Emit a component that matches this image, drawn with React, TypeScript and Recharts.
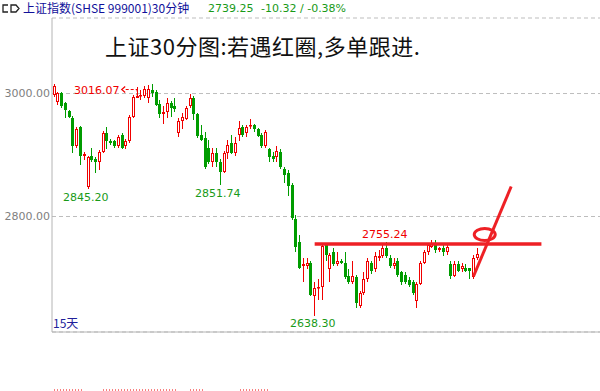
import React from "react";
import {
  Bar,
  CartesianGrid,
  ComposedChart,
  ReferenceDot,
  ReferenceLine,
  XAxis,
  YAxis
} from "recharts";

// 30-minute bars (index = bar slot)
const opens = [
  2998, 2987, 3001, 2985, 2971, 2961, 2914, 2945, 2899, 2848,
  2897.6, 2894, 2889.4, 2905.7, 2936.6, 2923.6, 2922, 2914, 2933, 2914,
  2922, 2962.6, 2993.5, 2996.7, 2996.7, 2993.5, 3006.5, 3003, 2983.7, 2967.5,
  2970.7, 2985, 2979, 2936.6, 2956, 2959, 2979, 2993.5, 2966, 2933,
  2927, 2912, 2888, 2904, 2889.4, 2873, 2904, 2920, 2904, 2933,
  2946, 2935, 2947, 2948, 2941.5, 2933, 2914, 2909, 2897.6, 2896,
  2905.7, 2878, 2871.5, 2852, 2796.7, 2759, 2719, 2720, 2725, 2670,
  2683, 2686, 2754.5, 2714, 2741.5, 2722, 2728, 2725, 2704, 2692.7,
  2702.4, 2654, 2676.4, 2697.6, 2725, 2714, 2732, 2735, 2749.6, 2733,
  2719, 2727, 2709, 2705.7, 2697, 2692.7, 2662, 2691, 2725, 2741.5,
  2751, 2756, 2745, 2749.6, 2741.5, 2722, 2704, 2723.5, 2714, 2717,
  2715.5, 2701, 2732
];
const highs = [
  3015, 3003, 3003, 2987, 2973, 2963, 2945, 2947, 2905, 2899,
  2912, 2896, 2908, 2939, 2946, 2926, 2925, 2933, 2936, 2926,
  2965, 2998, 3009.8, 3006.5, 3013, 3014, 3016.07, 3006, 2990, 2979,
  2993.5, 2988, 2993.5, 2961, 2969, 2979, 3000, 2996, 2968, 2949.6,
  2938, 2925, 2912, 2912, 2893, 2907, 2925, 2933, 2930, 2954.5,
  2949, 2949.6, 2958, 2951, 2944, 2936, 2941, 2912, 2905.7, 2914,
  2909, 2880, 2876, 2855, 2803, 2770.7, 2733, 2733, 2728, 2694,
  2699, 2755.24, 2757.7, 2741, 2748, 2741.5, 2731, 2741.5, 2714, 2727,
  2705.7, 2679, 2709, 2733, 2728, 2741.5, 2746.3, 2753, 2759, 2736.6,
  2733, 2733, 2712, 2709, 2701, 2696, 2694, 2728, 2744.8, 2756,
  2762.6, 2761, 2751, 2753, 2754.5, 2727, 2727, 2728, 2725, 2722,
  2717, 2736.6, 2749.6
];
const lows = [
  2994, 2982, 2977, 2961, 2960, 2904, 2911, 2884.5, 2892.7, 2845.2,
  2888, 2871.5, 2876, 2903, 2909, 2917, 2912, 2911, 2910, 2909,
  2919, 2960, 2992, 2990, 2993.5, 2985, 2995, 2979, 2961, 2951,
  2961, 2962.6, 2970.7, 2930, 2941.5, 2957, 2977, 2957.7, 2928, 2923,
  2878, 2885, 2880, 2880, 2851.74, 2870, 2893, 2901, 2897.6, 2922,
  2930, 2930, 2941.5, 2938, 2929, 2911, 2911, 2888, 2889.4, 2889.4,
  2877, 2855, 2834, 2795, 2743, 2714, 2694, 2714, 2670, 2638.3,
  2665, 2665, 2727, 2694, 2719, 2719, 2722, 2699, 2690, 2690,
  2652, 2652, 2673, 2694, 2707, 2710, 2728, 2732, 2732, 2715.5,
  2714, 2702.4, 2689, 2691, 2686, 2673, 2652, 2688, 2722, 2738,
  2748, 2740, 2741.5, 2735, 2738, 2699, 2701, 2709, 2709, 2709,
  2699, 2699, 2730
];
const closes = [
  3013, 3001.6, 2979, 2974, 2962.6, 2914, 2943, 2897.6, 2902.4, 2896,
  2892.7, 2889.4, 2905.7, 2936.6, 2922, 2920, 2914, 2928.5, 2912, 2923.6,
  2962.6, 2995, 2996.7, 2998.4, 3008, 3008, 3001.6, 2982, 2966, 2970.7,
  2985, 2977, 2975.6, 2956, 2962.6, 2977, 2993.5, 2966, 2931.7, 2925,
  2881, 2888, 2904, 2888, 2873, 2904, 2917, 2904, 2920, 2944.7,
  2933, 2946, 2949, 2941.5, 2931.7, 2914, 2938, 2896, 2894, 2907,
  2879.7, 2868, 2848.8, 2798, 2751, 2717, 2722, 2725, 2673, 2683,
  2686, 2752, 2738, 2738, 2722, 2728, 2725, 2701, 2692.7, 2704,
  2660, 2676.4, 2699, 2727, 2710.6, 2735, 2735, 2749.6, 2735, 2719,
  2725, 2705.7, 2692.7, 2694, 2689.4, 2676.4, 2691, 2725, 2741.5, 2753,
  2756, 2745, 2748, 2741.5, 2751, 2704, 2722, 2712, 2720, 2712,
  2710.6, 2733, 2739.25
];
const slotCount = 145;
const priceTicks = [2800, 3000];
const resistance = 2755.24;

const UP = "#f00000";
const DOWN = "#009c00";
const MARK = "#ee2025";
const NUM_FONT = "'DejaVu Sans', sans-serif";
const CJK_FONT = "'Noto Sans CJK SC', sans-serif";

const rows = Array.from({ length: slotCount }, (_, i) =>
  i < opens.length
    ? { i, o: opens[i], h: highs[i], l: lows[i], c: closes[i], range: [lows[i], highs[i]] }
    : { i }
);

function Candle(props: any) {
  const { x, y, width, height, payload } = props;
  if (!payload || payload.o == null || !isFinite(y) || !isFinite(height)) return null;
  const { o, h, l, c } = payload;
  const top = Math.min(y, y + height);
  const span = Math.abs(height);
  const k = h === l ? 0 : span / (h - l);
  const yO = top + (h - o) * k;
  const yC = top + (h - c) * k;
  const n = Math.floor(x + width / 2);
  const bTop = Math.round(Math.min(yO, yC));
  const bBot = Math.max(Math.round(Math.max(yO, yC)), bTop + 1);
  const yHigh = Math.round(top);
  const yLow = Math.round(top + span);
  if (c >= o) {
    return (
      <g>
        <line x1={n + 0.5} x2={n + 0.5} y1={yHigh} y2={bTop} stroke={UP} />
        <line x1={n + 0.5} x2={n + 0.5} y1={bBot} y2={yLow} stroke={UP} />
        <rect x={n - 0.5} y={bTop + 0.5} width={2} height={Math.max(bBot - bTop - 1, 0.5)} fill="#fff" stroke={UP} />
      </g>
    );
  }
  return (
    <g>
      <line x1={n + 0.5} x2={n + 0.5} y1={yHigh} y2={yLow} stroke={DOWN} />
      <rect x={n - 1} y={bTop} width={3} height={bBot - bTop} fill={DOWN} />
    </g>
  );
}

function Txt({ x, y, size, color, font, spacing, children }: any) {
  return (
    <div
      style={{
        position: "absolute",
        left: x,
        top: y,
        fontSize: size,
        lineHeight: `${size}px`,
        letterSpacing: spacing,
        color,
        fontFamily: font,
        whiteSpace: "nowrap"
      }}
    >
      {children}
    </div>
  );
}

export default function App() {
  return (
    <div style={{ position: "absolute", left: 0, top: 0, width: 600, height: 391, background: "#fff", overflow: "hidden" }}>
      <ComposedChart
        width={600}
        height={391}
        data={rows}
        margin={{ top: 18, right: 0, bottom: 58, left: 0 }}
        barCategoryGap={0}
      >
        <CartesianGrid vertical={false} stroke="#bdbdbd" strokeDasharray="4 3" />
        <XAxis dataKey="i" type="category" tick={false} tickLine={false} axisLine={{ stroke: "#b4b4b4" }} height={1} interval={0} />
        <YAxis
          domain={[2612.2, 3122.8]}
          ticks={priceTicks}
          allowDataOverflow
          width={52}
          tickLine={false}
          tickSize={0}
          tickMargin={2}
          axisLine={{ stroke: "#b4b4b4" }}
          tick={{ fill: "#808080", fontSize: 11, fontFamily: NUM_FONT }}
          tickFormatter={(v: number) => v.toFixed(2)}
        />
        <Bar dataKey="range" shape={Candle} isAnimationActive={false} />
        {/* dashed pointer from the 3016.07 label */}
        <ReferenceLine segment={[{ x: 19, y: 3006.5 }, { x: 22, y: 3006.5 }]} stroke={UP} strokeDasharray="3 2" />
        <ReferenceLine segment={[{ x: 22, y: 3006.5 }, { x: 22, y: 2997 }]} stroke={UP} strokeDasharray="2 2" />
        <ReferenceDot
          x={19}
          y={3006.5}
          r={1}
          shape={(p: any) => (
            <path d={`M${p.cx - 0.5},${p.cy - 3} L${p.cx - 4},${p.cy} L${p.cx - 0.5},${p.cy + 3}`} fill="none" stroke={UP} strokeWidth={1.2} />
          )}
        />
        {/* hand-drawn annotation */}
        <ReferenceLine segment={[{ x: 69, y: resistance }, { x: 129, y: resistance }]} stroke={MARK} strokeWidth={3.5} />
        <ReferenceLine segment={[{ x: 111, y: 2702.4 }, { x: 121, y: 2848.8 }]} stroke={MARK} strokeWidth={3} />
        <ReferenceDot
          x={114}
          y={2770.7}
          r={1}
          shape={(p: any) => (
            <ellipse cx={p.cx} cy={p.cy} rx={10.5} ry={6} fill="none" stroke={MARK} strokeWidth={3} />
          )}
        />
      </ComposedChart>

      {/* header */}
      <svg width={20} height={14} style={{ position: "absolute", left: 1, top: 2 }}>
        <path d="M7,3 L2,3 L2,10 L7,10" fill="none" stroke="#222" strokeWidth={1.3} />
        <path d="M10,3 L15,3 L18,6.5 L15,10 L10,10 Z" fill="none" stroke="#222" strokeWidth={1.3} />
      </svg>
      <Txt x={23} y={2} size={12} color="#10109a" font={CJK_FONT}>上证指数(SHSE 999001)30分钟</Txt>
      <Txt x={208} y={3} size={11} color="#189a18" font={NUM_FONT}>2739.25</Txt>
      <Txt x={261} y={3} size={11} color="#189a18" font={NUM_FONT}>-10.32 / -0.38%</Txt>

      {/* title */}
      <Txt x={105} y={34} size={22} color="#111" font={CJK_FONT} spacing="0.5px">上证30分图:若遇红圈,多单跟进.</Txt>

      {/* extreme labels */}
      <Txt x={74} y={85} size={11} color={UP} font={NUM_FONT}>3016.07</Txt>
      <Txt x={63} y={192} size={11} color="#189a18" font={NUM_FONT}>2845.20</Txt>
      <Txt x={195} y={188} size={11} color="#189a18" font={NUM_FONT}>2851.74</Txt>
      <Txt x={290} y={318} size={11} color="#189a18" font={NUM_FONT}>2638.30</Txt>
      <Txt x={362} y={229} size={11} color={UP} font={NUM_FONT}>2755.24</Txt>
      <Txt x={53} y={317} size={12} color="#20209a" font={CJK_FONT}>15天</Txt>

      {/* cut-off row at the bottom edge */}
      <svg width={600} height={4} style={{ position: "absolute", left: 0, top: 388 }}>
        <g stroke="#f00000" strokeDasharray="1 2">
          <line x1={54} x2={82} y1={2} y2={2} />
          <line x1={103} x2={176} y1={2} y2={2} />
          <line x1={190} x2={205} y1={2} y2={2} />
          <line x1={240} x2={270} y1={2} y2={2} />
        </g>
      </svg>
    </div>
  );
}
